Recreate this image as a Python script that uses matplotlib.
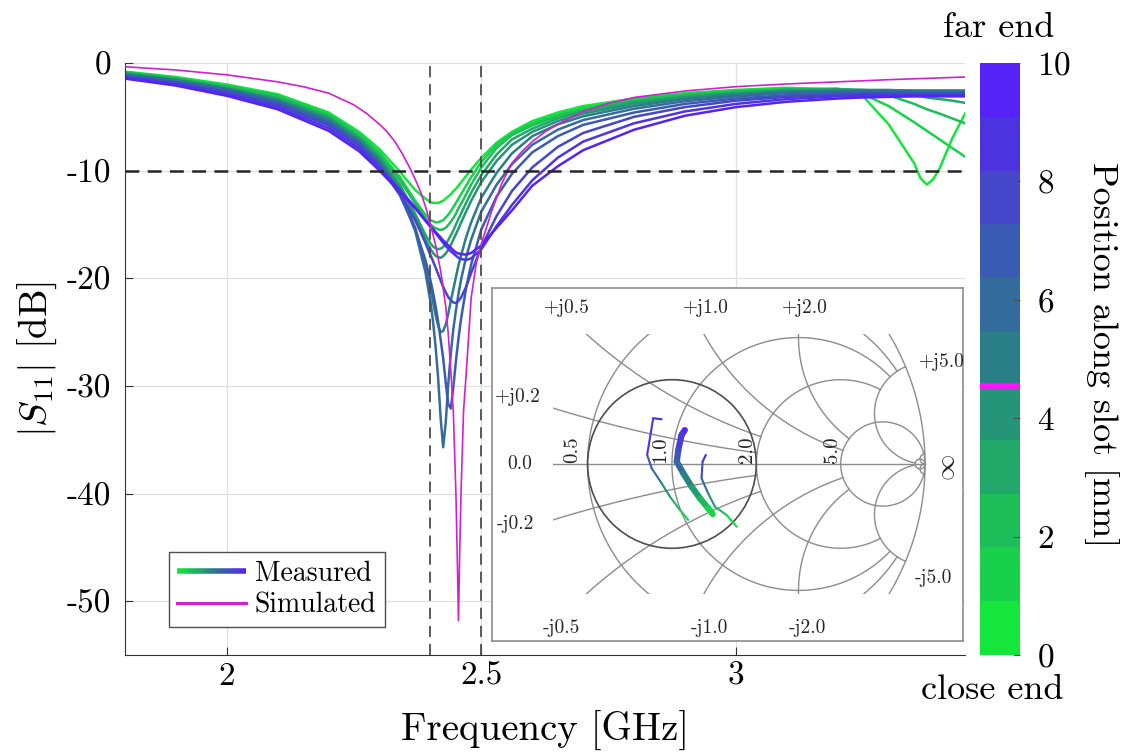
import numpy as np
import matplotlib
matplotlib.use('Agg')
import matplotlib.pyplot as plt
import matplotlib.cm as cm
from matplotlib.collections import LineCollection
from matplotlib.colors import LinearSegmentedColormap, Normalize
from matplotlib.legend_handler import HandlerBase
from matplotlib.lines import Line2D
from matplotlib.patches import Rectangle, Circle

plt.rcParams['font.family'] = 'serif'
plt.rcParams['font.serif'] = ['cmr10']
plt.rcParams['mathtext.fontset'] = 'cm'
plt.rcParams['axes.unicode_minus'] = False
plt.rcParams['axes.formatter.use_mathtext'] = True
plt.rcParams['lines.scale_dashes'] = False

# frequency grid of the measured curves [GHz]
freq = [1.80, 1.90, 2.00, 2.10, 2.20, 2.26, 2.30, 2.34, 2.37, 2.39,
        2.40, 2.405, 2.41, 2.415, 2.42, 2.425, 2.43, 2.435, 2.44, 2.445,
        2.45, 2.455, 2.46, 2.47, 2.48, 2.50, 2.53, 2.56, 2.60, 2.65,
        2.70, 2.80, 2.90, 3.00, 3.10, 3.20, 3.25, 3.30, 3.35, 3.3625,
        3.375, 3.3875, 3.40, 3.425, 3.45]

# measured |S11| [dB], one list per slot position (0 .. 10 mm)
s11_p0 = [-0.8, -1.3, -2.0, -2.9, -4.6, -6.4, -8.0, -10.1, -11.8, -12.6,
          -12.9, -13.0, -13.0, -13.0, -12.9, -12.8, -12.6, -12.4, -12.2, -11.9,
          -11.7, -11.4, -11.1, -10.5, -9.9, -8.8, -7.4, -6.4, -5.4, -4.6,
          -4.0, -3.3, -2.8, -2.5, -2.3, -2.5, -3.1, -5.7, -9.3, -10.7,
          -11.3, -10.8, -9.8, -7.0, -4.7]
s11_p1 = [-0.85, -1.4, -2.1, -3.0, -4.75, -6.6, -8.3, -10.6, -12.8, -14.1,
          -14.6, -14.7, -14.8, -14.8, -14.7, -14.6, -14.35, -14.1, -13.75, -13.4,
          -13.0, -12.6, -12.2, -11.4, -10.6, -9.2, -7.6, -6.5, -5.6, -4.8,
          -4.2, -3.4, -2.9, -2.6, -2.4, -2.4, -2.9, -4.0, -5.5, -5.9,
          -6.3, -6.7, -7.1, -7.9, -8.7]
s11_p2 = [-0.9, -1.45, -2.2, -3.15, -4.9, -6.8, -8.55, -10.9, -13.05, -14.45,
          -15.0, -15.2, -15.35, -15.45, -15.5, -15.45, -15.3, -15.05, -14.75, -14.4,
          -14.0, -13.5, -13.1, -12.2, -11.3, -9.7, -7.9, -6.7, -5.8, -4.95,
          -4.35, -3.5, -3.0, -2.65, -2.45, -2.4, -2.6, -3.0, -3.8, -4.05,
          -4.3, -4.5, -4.7, -5.15, -5.6]
s11_p3 = [-0.95, -1.5, -2.3, -3.3, -5.05, -6.95, -8.8, -11.3, -14.0, -15.95,
          -16.75, -17.05, -17.2, -17.3, -17.25, -17.1, -16.8, -16.45, -16.0, -15.55,
          -15.0, -14.5, -14.0, -13.0, -12.05, -10.4, -8.5, -7.1, -6.1, -5.15,
          -4.5, -3.65, -3.1, -2.75, -2.5, -2.45, -2.5, -2.7, -3.0, -3.1,
          -3.2, -3.28, -3.35, -3.5, -3.7]
s11_p4 = [-1.0, -1.55, -2.35, -3.4, -5.15, -7.05, -8.9, -11.5, -14.3, -16.4,
          -17.3, -17.65, -17.9, -18.05, -18.1, -17.95, -17.7, -17.35, -16.9, -16.4,
          -15.9, -15.4, -14.85, -13.8, -12.8, -11.05, -9.1, -7.6, -6.4, -5.4,
          -4.7, -3.8, -3.2, -2.85, -2.6, -2.5, -2.5, -2.5, -2.6, -2.62,
          -2.65, -2.68, -2.7, -2.75, -2.8]
s11_p5 = [-1.05, -1.6, -2.4, -3.5, -5.3, -7.2, -9.1, -11.8, -15.3, -18.8,
          -21.0, -22.2, -23.4, -24.4, -25.0, -24.9, -24.3, -23.3, -22.1, -21.0,
          -19.9, -18.8, -17.9, -16.2, -14.8, -12.5, -10.2, -8.4, -6.8, -5.7,
          -4.95, -4.0, -3.35, -2.95, -2.7, -2.6, -2.55, -2.55, -2.55, -2.55,
          -2.55, -2.55, -2.55, -2.55, -2.55]
s11_p6 = [-1.1, -1.7, -2.5, -3.6, -5.45, -7.35, -9.3, -12.0, -15.6, -19.4,
          -22.2, -24.0, -26.3, -29.2, -33.0, -35.7, -33.4, -29.8, -27.0, -24.7,
          -23.0, -21.45, -20.15, -18.05, -16.4, -13.8, -11.3, -9.4, -7.6, -6.2,
          -5.3, -4.25, -3.55, -3.1, -2.8, -2.7, -2.65, -2.65, -2.65, -2.65,
          -2.65, -2.65, -2.65, -2.65, -2.65]
s11_p7 = [-1.2, -1.8, -2.6, -3.75, -5.6, -7.5, -9.5, -12.3, -15.4, -18.3,
          -20.2, -21.3, -22.6, -24.0, -25.7, -27.45, -29.7, -31.7, -32.1, -30.1,
          -27.7, -25.6, -23.8, -20.9, -18.7, -15.45, -12.4, -10.3, -8.3, -6.8,
          -5.75, -4.6, -3.8, -3.3, -3.0, -2.85, -2.8, -2.8, -2.8, -2.8,
          -2.8, -2.8, -2.8, -2.8, -2.8]
s11_p8 = [-1.3, -1.9, -2.75, -3.9, -5.8, -7.7, -9.6, -12.1, -14.6, -16.7,
          -17.85, -18.4, -19.0, -19.6, -20.2, -20.8, -21.3, -21.75, -22.05, -22.25,
          -22.3, -22.1, -21.8, -20.8, -19.5, -17.1, -14.2, -11.9, -9.7, -7.8,
          -6.5, -5.0, -4.1, -3.5, -3.15, -2.95, -2.9, -2.9, -2.9, -2.9,
          -2.9, -2.9, -2.9, -2.9, -2.9]
s11_p9 = [-1.35, -2.0, -2.9, -4.1, -6.05, -7.95, -9.75, -11.8, -13.4, -14.6,
          -15.2, -15.5, -15.8, -16.1, -16.4, -16.7, -17.0, -17.25, -17.5, -17.7,
          -17.9, -18.1, -18.2, -18.3, -18.15, -17.3, -15.15, -13.2, -10.9, -8.8,
          -7.3, -5.6, -4.5, -3.8, -3.35, -3.1, -3.05, -3.0, -3.0, -3.0,
          -3.0, -3.0, -3.0, -3.0, -3.0]
s11_p10 = [-1.45, -2.1, -3.05, -4.3, -6.3, -8.2, -10.0, -12.0, -13.5, -14.65,
           -15.2, -15.45, -15.7, -15.95, -16.2, -16.5, -16.7, -16.95, -17.15, -17.4,
           -17.6, -17.7, -17.75, -17.8, -17.65, -16.95, -15.3, -13.7, -11.4, -9.6,
           -8.1, -6.2, -4.9, -4.1, -3.6, -3.3, -3.2, -3.15, -3.1, -3.1,
           -3.1, -3.1, -3.1, -3.1, -3.1]
measured = [s11_p0, s11_p1, s11_p2, s11_p3, s11_p4, s11_p5,
            s11_p6, s11_p7, s11_p8, s11_p9, s11_p10]
positions = [0, 1, 2, 3, 4, 5, 6, 7, 8, 9, 10]   # mm along slot

# simulated curve
sim_freq = [1.80, 1.90, 2.00, 2.10, 2.15, 2.20, 2.25, 2.275, 2.30, 2.315,
            2.33, 2.345, 2.36, 2.37, 2.38, 2.39, 2.40, 2.41, 2.42, 2.43,
            2.435, 2.44, 2.445, 2.45, 2.4525, 2.455, 2.4575, 2.46, 2.465, 2.47,
            2.48, 2.49, 2.50, 2.51, 2.52, 2.54, 2.56, 2.58, 2.60, 2.625,
            2.65, 2.70, 2.75, 2.80, 2.90, 3.00, 3.10, 3.20, 3.30, 3.45]
sim_s11 = [-0.35, -0.65, -1.1, -1.75, -2.2, -2.8, -3.9, -4.7, -5.7, -6.4,
           -7.3, -8.45, -9.8, -10.8, -11.9, -13.3, -15.0, -16.9, -19.3, -22.6,
           -25.2, -28.6, -32.5, -40.0, -45.5, -51.8, -45.5, -40.0, -32.3, -29.0,
           -21.8, -18.6, -16.8, -15.3, -13.8, -11.2, -9.3, -8.2, -7.3, -6.4,
           -5.7, -4.5, -3.75, -3.2, -2.6, -2.2, -1.95, -1.75, -1.55, -1.3]
sim_position = 4.55

band_edges = [2.4, 2.5]
s11_limit = -10

# reflection coefficient traces in the Smith chart (real, imag, slot position)
trace_a_re = [-0.041, -0.074, -0.098, -0.080, -0.041, -0.008, 0.032, 0.064]
trace_a_im = [0.177, 0.181, 0.036, -0.017, -0.076, -0.129, -0.182, -0.221]
trace_a_pos = [10, 9.6, 8, 6.5, 5, 3.5, 2, 0]
trace_b_re = [0.051, 0.038, 0.025, 0.019, 0.045, 0.078, 0.111, 0.143, 0.161]
trace_b_im = [0.134, 0.115, 0.055, 0.009, -0.037, -0.090, -0.136, -0.175, -0.198]
trace_b_pos = [10, 9.3, 8, 6.8, 5.5, 4.2, 3, 1.5, 0]
trace_c_re = [0.134, 0.121, 0.117, 0.143, 0.170, 0.216, 0.256]
trace_c_im = [0.036, 0.009, -0.057, -0.116, -0.169, -0.202, -0.248]
trace_c_pos = [10, 9, 7, 5, 3, 1.5, 0]

# smith chart grid: constant resistance circles and reactance arcs
r_grid = [0.5, 1, 2, 5, 50]
r_grid_end = [5, 5, 5, np.inf, np.inf]
x_grid = [0.2, 0.5, 1, 2, 5, 50]
x_grid_end = [2, 2, 5, 5, 50, np.inf]
smith_labels = [('+j0.2', -0.61, 0.265), ('0.0', -0.60, 0.0), ('-j0.2', -0.62, -0.237),
                ('+j0.5', -0.415, 0.617), ('+j1.0', 0.134, 0.617), ('+j2.0', 0.526, 0.617),
                ('+j5.0', 1.067, 0.403), ('-j0.5', -0.435, -0.648), ('-j1.0', 0.150, -0.648),
                ('-j2.0', 0.534, -0.648), ('-j5.0', 1.032, -0.45)]
r_labels = [('0.5', -0.395, 0.055), ('1.0', -0.047, 0.055), ('2.0', 0.296, 0.055),
            ('5.0', 0.632, 0.055)]

x_ticks = [2, 2.5, 3]
x_tick_labels = ['2', '2.5', '3']
y_ticks = [-50, -40, -30, -20, -10, 0]
y_tick_labels = ['-50', '-40', '-30', '-20', '-10', '0']
cb_ticks = [0, 2, 4, 6, 8, 10]

cmap_cont = LinearSegmentedColormap.from_list('slot', ['#14e63c', '#2a7f86', '#5522f8'])
cmap_disc = cmap_cont.resampled(11)
norm = Normalize(0, 10)
magenta = '#d21fd2'


class GradientLineHandler(HandlerBase):
    def __init__(self, cmap, lw):
        super().__init__()
        self.cmap = cmap
        self.lw = lw

    def create_artists(self, legend, orig_handle, xdescent, ydescent,
                       width, height, fontsize, trans):
        n = 32
        xs = np.linspace(-xdescent, width - xdescent, n + 1)
        ys = np.full_like(xs, (height - ydescent) / 2.0)
        pts = np.column_stack([xs, ys]).reshape(-1, 1, 2)
        segs = np.concatenate([pts[:-1], pts[1:]], axis=1)
        lc = LineCollection(segs, colors=self.cmap(np.linspace(0, 1, n)),
                            linewidths=self.lw, transform=trans)
        return [lc]


fig = plt.figure(figsize=(11.22, 7.53), dpi=100)
ax = fig.add_axes([125 / 1122, 98 / 753, 840 / 1122, 592 / 753])

for pos, s11 in zip(positions, measured):
    ax.plot(freq, s11, color=cmap_disc(norm(pos)), lw=1.8, zorder=2)
ax.plot(sim_freq, sim_s11, color=magenta, lw=1.2, zorder=3)

for f in band_edges:
    ax.axvline(f, color='0.3', lw=1.3, dashes=(8, 5), zorder=4)
ax.axhline(s11_limit, color='0.15', lw=1.8, dashes=(10, 6), zorder=4)

ax.set_xlim(1.8, 3.45)
ax.set_ylim(-55, 0)
ax.set_xticks(x_ticks)
ax.set_xticklabels(x_tick_labels)
ax.set_yticks(y_ticks)
ax.set_yticklabels(y_tick_labels)
ax.tick_params(direction='in', length=6, labelsize=24, color='0.2')
ax.tick_params(axis='x', pad=5)
ax.tick_params(axis='y', pad=10)
ax.grid(True, color='0.88', lw=0.9)
ax.set_axisbelow(True)
for side in ['top', 'right']:
    ax.spines[side].set_visible(False)
for side in ['left', 'bottom']:
    ax.spines[side].set_color('0.2')
ax.set_xlabel('Frequency [GHz]', fontsize=28)
ax.xaxis.set_label_coords(0.5, -0.095)
ax.set_ylabel(r'$|S_{11}|$ [dB]', fontsize=28)
ax.yaxis.set_label_coords(-0.079, 0.5)

meas_handle = Line2D([], [])
sim_handle = Line2D([], [], color=magenta, lw=2.2)
leg = ax.legend([meas_handle, sim_handle], ['Measured', 'Simulated'],
                handler_map={meas_handle: GradientLineHandler(cmap_cont, 4.0)},
                loc='lower left', bbox_to_anchor=(0.052, 0.047), borderaxespad=0,
                fontsize=20, handlelength=2.5, handletextpad=0.3, borderpad=0.3,
                labelspacing=0.2, fancybox=False, framealpha=1, edgecolor='0.3')
leg.get_frame().set_linewidth(1.0)

# colorbar
cax = fig.add_axes([980 / 1122, 98 / 753, 40 / 1122, 592 / 753])
sm = cm.ScalarMappable(norm=norm, cmap=cmap_disc)
cb = fig.colorbar(sm, cax=cax, ticks=cb_ticks)
cb.outline.set_visible(False)
cax.tick_params(direction='in', length=5, labelsize=24, pad=12, color='0.3')
cax.axhline(sim_position, color='#ff14ff', lw=4)
fig.text(999 / 1122, 1 - 28 / 753, 'far end', fontsize=26, ha='center', va='center')
fig.text(992 / 1122, 1 - 690 / 753, 'close end', fontsize=26, ha='center', va='center')
fig.text(1101 / 1122, 1 - 355 / 753, 'Position along slot [mm]', fontsize=26,
         rotation=270, ha='center', va='center')

# inset smith chart
ax_in = fig.add_axes([492 / 1122, 112 / 753, 471 / 1122, 353 / 753])
ax_in.set_xlim(-0.711, 1.150)
ax_in.set_ylim(-0.700, 0.696)
ax_in.set_xticks([])
ax_in.set_yticks([])
for sp in ax_in.spines.values():
    sp.set_color('0.55')
    sp.set_linewidth(1.2)

clip = Rectangle((-0.47, -0.515), 1.56, 1.03, transform=ax_in.transData)
grid_kw = dict(color='0.55', lw=1.0, zorder=1)


def gamma(z):
    return (z - 1) / (z + 1)


def grid_line(gx, gy):
    ln, = ax_in.plot(gx, gy, **grid_kw)
    ln.set_clip_path(clip)


t = np.linspace(0, 2 * np.pi, 721)
grid_line(np.cos(t), np.sin(t))
grid_line([-1, 1], [0, 0])
for r, xe in zip(r_grid, r_grid_end):
    if np.isinf(xe):
        c, rad = r / (1 + r), 1 / (1 + r)
        grid_line(c + rad * np.cos(t), rad * np.sin(t))
    else:
        g = gamma(r + 1j * np.linspace(-xe, xe, 1201))
        grid_line(g.real, g.imag)
for xv, re_end in zip(x_grid, x_grid_end):
    rs = np.concatenate([[0], np.geomspace(1e-3, min(re_end, 1e5), 800)])
    for sgn in (1, -1):
        g = gamma(rs + 1j * sgn * xv)
        grid_line(g.real, g.imag)

ax_in.add_patch(Circle((0, 0), 1 / 3, fill=False, ec='0.3', lw=1.2, zorder=2))

for txt, gx, gy in smith_labels:
    ax_in.text(gx, gy, txt, fontsize=14, ha='center', va='center', color='0.15')
for txt, gx, gy in r_labels:
    ax_in.text(gx, gy, txt, fontsize=15, ha='center', va='center', rotation=90, color='0.15')
ax_in.text(1.087, -0.016, r'$\infty$', fontsize=19, ha='center', va='center',
           rotation=90, color='0.15')

for re_, im_, pos_, lw in [(trace_a_re, trace_a_im, trace_a_pos, 1.5),
                           (trace_b_re, trace_b_im, trace_b_pos, 4.5),
                           (trace_c_re, trace_c_im, trace_c_pos, 1.5)]:
    pts = np.column_stack([re_, im_]).reshape(-1, 1, 2)
    segs = np.concatenate([pts[:-1], pts[1:]], axis=1)
    mid = (np.array(pos_[:-1]) + np.array(pos_[1:])) / 2
    lc = LineCollection(segs, colors=cmap_cont(norm(mid)), linewidths=lw,
                        capstyle='round', joinstyle='round', zorder=3)
    ax_in.add_collection(lc)

fig.savefig('out.png', dpi=100)
